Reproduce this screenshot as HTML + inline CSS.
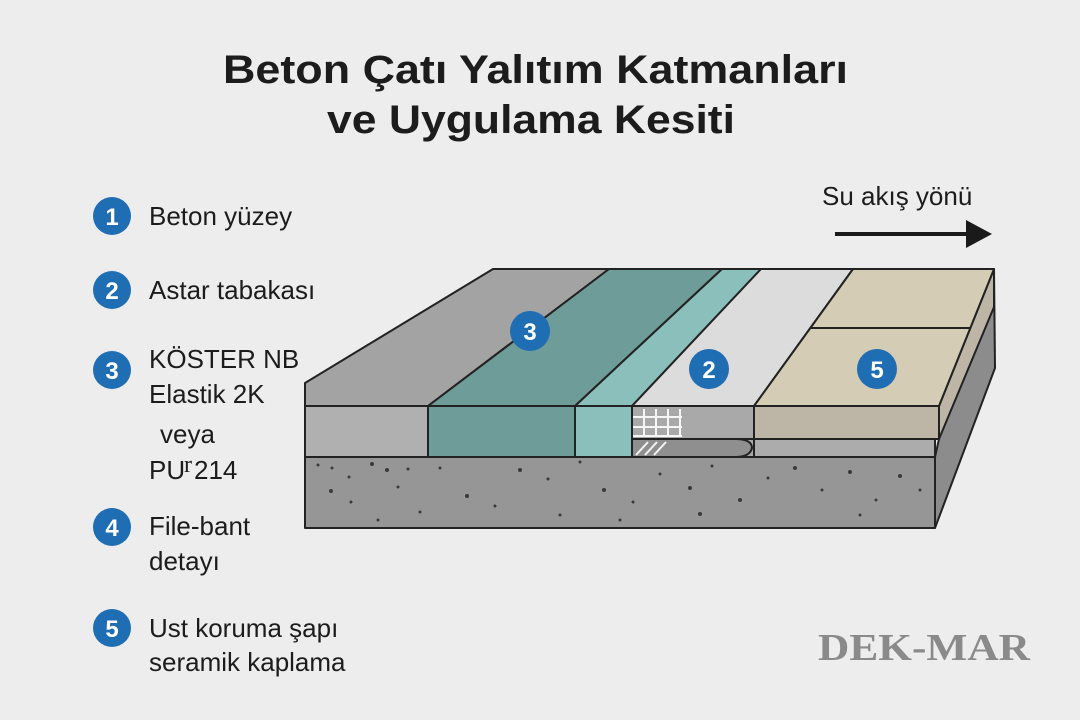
<!DOCTYPE html>
<html><head><meta charset="utf-8"><style>
html,body{margin:0;padding:0;background:#ededed;}
svg{display:block;}
</style></head><body>
<svg width="1080" height="720" viewBox="0 0 1080 720" xmlns="http://www.w3.org/2000/svg" style="font-family:'Liberation Sans',sans-serif">
<rect width="1080" height="720" fill="#ededed"/>
<text x="223" y="83" font-size="40" font-weight="bold" fill="#1c1c1c" textLength="625" lengthAdjust="spacingAndGlyphs">Beton Çatı Yalıtım Katmanları</text>
<text x="327" y="133" font-size="40" font-weight="bold" fill="#1c1c1c" textLength="408" lengthAdjust="spacingAndGlyphs">ve Uygulama Kesiti</text>

<g font-size="26" fill="#1c1c1c">
<circle cx="112" cy="216" r="19" fill="#1f6db3"/><text x="112" y="225" font-size="24" font-weight="bold" fill="#fff" text-anchor="middle">1</text>
<text x="149" y="225">Beton yüzey</text>
<circle cx="112" cy="290" r="19" fill="#1f6db3"/><text x="112" y="299" font-size="24" font-weight="bold" fill="#fff" text-anchor="middle">2</text>
<text x="149" y="299">Astar tabakası</text>
<circle cx="112" cy="370" r="19" fill="#1f6db3"/><text x="112" y="379" font-size="24" font-weight="bold" fill="#fff" text-anchor="middle">3</text>
<text x="149" y="368">KÖSTER NB</text>
<text x="149" y="403">Elastik 2K</text>
<text x="160" y="443">veya</text>
<text x="149" y="479">PU</text><text x="184" y="472" style="font-family:'Liberation Serif',serif;font-size:24px">r</text><text x="194" y="479">214</text>
<circle cx="112" cy="527" r="19" fill="#1f6db3"/><text x="112" y="536" font-size="24" font-weight="bold" fill="#fff" text-anchor="middle">4</text>
<text x="149" y="535">File-bant</text>
<text x="149" y="570">detayı</text>
<circle cx="112" cy="628" r="19" fill="#1f6db3"/><text x="112" y="637" font-size="24" font-weight="bold" fill="#fff" text-anchor="middle">5</text>
<text x="149" y="637">Ust koruma şapı</text>
<text x="149" y="671">seramik kaplama</text>
</g>

<text x="822" y="205" font-size="26" fill="#1c1c1c">Su akış yönü</text>
<line x1="835" y1="234" x2="968" y2="234" stroke="#1a1a1a" stroke-width="4"/>
<polygon points="966,220 992,234 966,248" fill="#1a1a1a"/>

<text x="818" y="660" style="font-family:'Liberation Serif',serif;font-size:38px;font-weight:bold" fill="#8a8a8a" textLength="212" lengthAdjust="spacingAndGlyphs">DEK-MAR</text>

<g stroke="#222" stroke-width="2" stroke-linejoin="round">
<polygon points="939,406 994,269 995,368 935,528 935,457 939,439" fill="#8c8c8c"/>
<polygon points="939,406 994,269 994,307 939,439" fill="#bdb6a6"/>
<polygon points="305,383 493,269 609,269 428,406 305,406" fill="#a3a3a3"/>
<polygon points="428,406 609,269 722,269 575,406" fill="#6e9c99"/>
<polygon points="575,406 722,269 761,269 632,406" fill="#8bbfbb"/>
<polygon points="632,406 761,269 853,269 754,406" fill="#dcdcdc"/>
<polygon points="754,406 853,269 994,269 939,406" fill="#d5ccb5"/>
<line x1="811" y1="328" x2="970" y2="328"/>
<rect x="305" y="406" width="123" height="51" fill="#b0b0b0"/>
<rect x="428" y="406" width="147" height="51" fill="#6e9c99"/>
<rect x="575" y="406" width="57" height="51" fill="#8bbfbb"/>
<rect x="632" y="406" width="122" height="51" fill="#a9a9a9"/>
<rect x="754" y="406" width="185" height="33" fill="#bdb6a6"/>
<rect x="754" y="439" width="181" height="18" fill="#acacac"/>
<line x1="632" y1="439" x2="754" y2="439"/>
<path d="M632,439 L735,439 Q752,439 752,448 Q750,457 735,457 L632,457 Z" fill="#8f8f8f"/>
<rect x="305" y="457" width="630" height="71" fill="#969696"/>
</g>
<g stroke="#fff" stroke-width="2" opacity="0.9">
<line x1="644" y1="409" x2="644" y2="437"/><line x1="656" y1="409" x2="656" y2="437"/><line x1="668" y1="409" x2="668" y2="437"/><line x1="680" y1="409" x2="680" y2="437"/>
<line x1="633" y1="417" x2="682" y2="417"/><line x1="633" y1="427" x2="682" y2="427"/><line x1="633" y1="436" x2="682" y2="436"/>
<line x1="636" y1="455" x2="648" y2="442"/><line x1="645" y1="455" x2="657" y2="442"/><line x1="654" y1="455" x2="666" y2="442"/>
</g>
<g fill="#3a3a3a">
<circle cx="318" cy="465" r="1.5"/><circle cx="332" cy="468" r="1.5"/><circle cx="372" cy="464" r="2"/><circle cx="349" cy="477" r="1.5"/><circle cx="331" cy="491" r="2"/><circle cx="351" cy="502" r="1.5"/><circle cx="387" cy="470" r="2"/><circle cx="408" cy="469" r="1.5"/><circle cx="398" cy="487" r="1.5"/><circle cx="440" cy="468" r="1.5"/><circle cx="467" cy="496" r="2"/><circle cx="495" cy="506" r="1.5"/><circle cx="520" cy="470" r="2"/><circle cx="548" cy="479" r="1.5"/><circle cx="580" cy="462" r="1.5"/><circle cx="604" cy="490" r="2"/><circle cx="633" cy="502" r="1.5"/><circle cx="660" cy="474" r="1.5"/><circle cx="690" cy="488" r="2"/><circle cx="712" cy="466" r="1.5"/><circle cx="740" cy="500" r="2"/><circle cx="768" cy="478" r="1.5"/><circle cx="795" cy="468" r="2"/><circle cx="822" cy="490" r="1.5"/><circle cx="850" cy="472" r="2"/><circle cx="876" cy="500" r="1.5"/><circle cx="900" cy="476" r="2"/><circle cx="920" cy="490" r="1.5"/><circle cx="420" cy="512" r="1.5"/><circle cx="560" cy="515" r="1.5"/><circle cx="700" cy="514" r="2"/><circle cx="860" cy="515" r="1.5"/><circle cx="378" cy="520" r="1.5"/><circle cx="620" cy="520" r="1.5"/>
</g>
<g font-size="24" font-weight="bold" fill="#fff" text-anchor="middle">
<circle cx="530" cy="331" r="20" fill="#1f6db3"/><text x="530" y="340">3</text>
<circle cx="709" cy="369" r="20" fill="#1f6db3"/><text x="709" y="378">2</text>
<circle cx="877" cy="369" r="20" fill="#1f6db3"/><text x="877" y="378">5</text>
</g>
</svg>
</body></html>
